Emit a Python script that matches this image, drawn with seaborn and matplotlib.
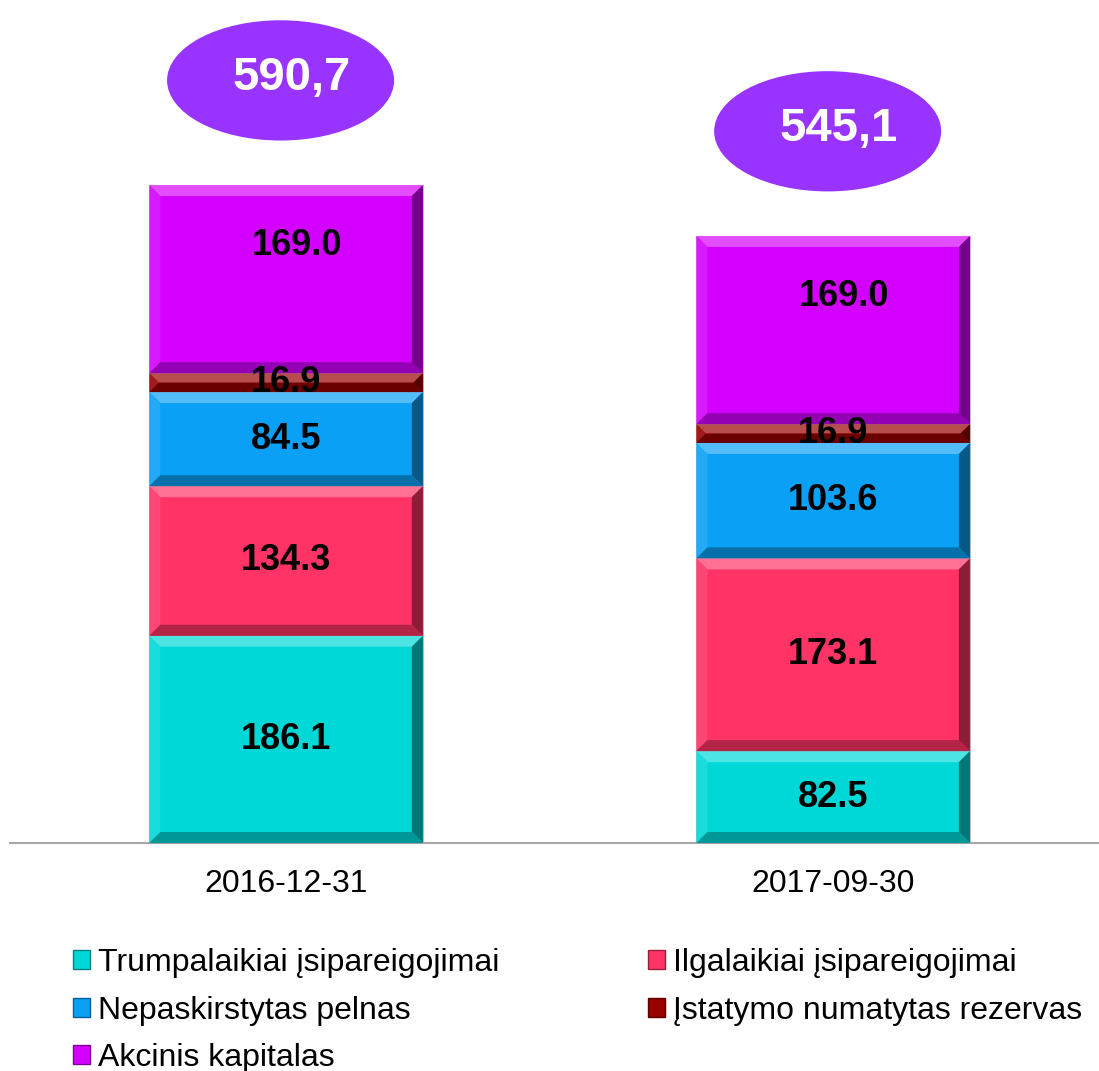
import numpy as np
import pandas as pd
import matplotlib
matplotlib.use('Agg')
from matplotlib import pyplot as plt
from matplotlib.patches import Polygon, Ellipse, Patch
from matplotlib.colors import to_rgb
import seaborn as sns

### data ###
dates = ['2016-12-31', '2017-09-30']
series = ['Trumpalaikiai įsipareigojimai', 'Ilgalaikiai įsipareigojimai',
          'Nepaskirstytas pelnas', 'Įstatymo numatytas rezervas', 'Akcinis kapitalas']
trumpalaikiai = [186.1, 82.5]
ilgalaikiai = [134.3, 173.1]
pelnas = [84.5, 103.6]
rezervas = [16.9, 16.9]
kapitalas = [169.0, 169.0]
total_labels = ['590,7', '545,1']

colors = ['#00D8D8', '#FF3366', '#0AA0F5', '#990000', '#D400FF']
ellipse_color = '#9933FF'

values = [trumpalaikiai, ilgalaikiai, pelnas, rezervas, kapitalas]
df = pd.DataFrame({s: v for s, v in zip(series, values)}, index=dates)
cum_df = df.cumsum(axis=1)
bottom_df = cum_df - df

sns.set_style('white')
plt.rcParams['font.family'] = ['Liberation Sans', 'DejaVu Sans']
plt.rcParams['text.color'] = 'black'
plt.rcParams['xtick.color'] = 'black'

fig = plt.figure(figsize=(10.99, 10.71), dpi=100)
ax = fig.add_axes([10/1099, 228/1071, 1089/1099, 843/1071])

#### stacked bars: draw cumulative totals from the top layer down ####
for s, c in reversed(list(zip(series, colors))):
    sns.barplot(x=dates, y=cum_df[s].values, color=c, width=0.5, ax=ax,
                saturation=1, edgecolor='#BFBFBF', linewidth=0.6)

ax.set_xlim(-0.5046, 1.486)
ax.set_ylim(0, 757)

### bevel effect on each segment ###
def blend(c, other, t):
    c = np.array(to_rgb(c)); o = np.array(to_rgb(other))
    return tuple(c*(1-t) + o*t)

inv = ax.transData.inverted()
for s, c in zip(series, colors):
    for i, d in enumerate(dates):
        b0 = bottom_df.loc[d, s]; b1 = cum_df.loc[d, s]
        (x0, y0), (x1, y1) = ax.transData.transform([(i - 0.25, b0), (i + 0.25, b1)])
        bv = min(11, (y1 - y0) / 2)
        ox0, oy0, ox1, oy1 = x0 + bv, y0 + bv, x1 - bv, y1 - bv
        pieces = [
            ([(x0, y1), (x1, y1), (ox1, oy1), (ox0, oy1)], blend(c, 'white', 0.3)),
            ([(x0, y0), (x0, y1), (ox0, oy1), (ox0, oy0)], blend(c, 'white', 0.1)),
            ([(x1, y0), (x1, y1), (ox1, oy1), (ox1, oy0)], blend(c, 'black', 0.45)),
            ([(x0, y0), (x1, y0), (ox1, oy0), (ox0, oy0)], blend(c, 'black', 0.3)),
        ]
        for pts, pc in pieces:
            ax.add_patch(Polygon(inv.transform(pts), closed=True, facecolor=pc,
                                 edgecolor='none', zorder=3))

### value labels ###
for k, s in enumerate(series):
    for i, d in enumerate(dates):
        yc = bottom_df.loc[d, s] + df.loc[d, s] / 2
        off = (8, 24) if k == len(series) - 1 else (0, 0)
        ax.annotate(f'{df.loc[d, s]:.1f}', (i, yc), xytext=off, textcoords='offset points',
                    ha='center', va='center', fontsize=26, fontweight='bold',
                    color='black', zorder=5)

### totals in ellipses ###
totals = cum_df[series[-1]].values
for i, t in enumerate(totals):
    ax.add_patch(Ellipse((i - 0.01, t + 94), 0.415, 108, facecolor=ellipse_color,
                         edgecolor='none', zorder=4, clip_on=False))
    ax.text(i + 0.01, t + 96, total_labels[i], ha='center', va='center', fontsize=34,
            fontweight='bold', color='white', zorder=5)

sns.despine(ax=ax, left=True, top=True, right=True)
ax.spines['bottom'].set_color('#A6A6A6')
ax.spines['bottom'].set_linewidth(1.5)
ax.set_yticks([])
ax.set_xlabel(''); ax.set_ylabel('')
ax.tick_params(axis='x', length=0, pad=19, labelsize=23, labelcolor='black')

### legend ###
handles = {s: Patch(facecolor=c, edgecolor=blend(c, 'black', 0.4), linewidth=1) for s, c in zip(series, colors)}
order = [series[0], series[2], series[4], series[1], series[3]]
leg = fig.legend([handles[s] for s in order], order, loc='upper left',
                 bbox_to_anchor=(73/1099, (1071 - 948)/1071), ncol=2, frameon=False,
                 fontsize=23, handlelength=0.53, handleheight=0.53, handletextpad=0.25,
                 columnspacing=4.65, labelspacing=0.55, borderpad=0, borderaxespad=0)
for t in leg.get_texts():
    t.set_color('black')

plt.savefig('out.png', dpi=100)
